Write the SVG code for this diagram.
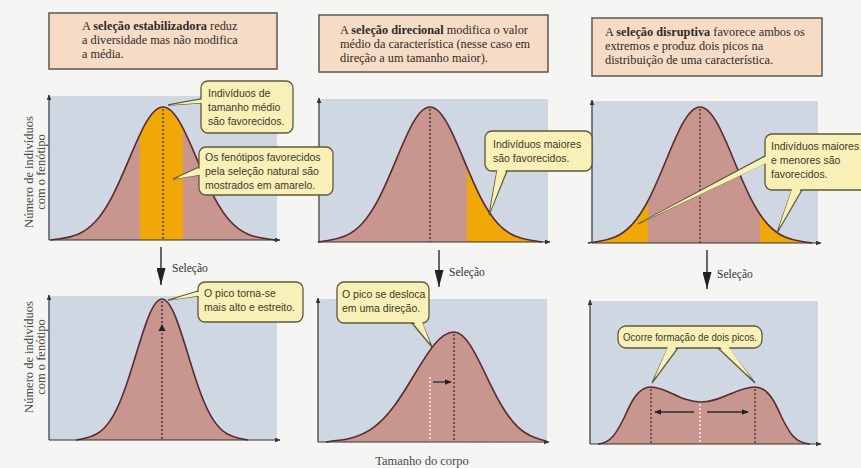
<svg xmlns="http://www.w3.org/2000/svg" width="861" height="468" viewBox="0 0 861 468">
<style>
.hdr{fill:#f7dcc5;stroke:#5b5753;stroke-width:1.5}
.ht{font-family:"Liberation Serif","Times New Roman",serif;font-size:12.3px;fill:#2e2a28}
.b{font-weight:bold}
.bg{fill:#cfd7e2}
.ax{stroke:#333;stroke-width:1.2;fill:none}
.rose{fill:#c8968f}
.yel{fill:#f0a808}
.cs{fill:none;stroke:#5a2a30;stroke-width:1.6}
.dd{stroke:#3a2626;stroke-width:1.2;stroke-dasharray:2 2;fill:none}
.wd{stroke:#ffffff;stroke-width:1.2;stroke-dasharray:2 2;fill:none}
.co{fill:#f8f0b6;stroke:#5d5a3a;stroke-width:1.3}
.cf{fill:#f8f0b6}
.ct{font-family:"Liberation Sans",Arial,sans-serif;font-size:10.5px;fill:#3a3a2c}
.lab{font-family:"Liberation Serif","Times New Roman",serif;font-size:12.5px;fill:#4a4a4a}
.sel{font-family:"Liberation Serif","Times New Roman",serif;font-size:11.5px;fill:#333}
.arr{stroke:#2b2b2b;stroke-width:1.4;fill:none}
.sa{stroke:#2b2b2b;stroke-width:1.3;fill:none}
</style>
<defs>
<path id="g" vector-effect="non-scaling-stroke" d="M-3.3,0 L-3,0.0111 C-2.8333,0.0167 -2.6667,0.0256 -2.5,0.0439 C-2.3333,0.0622 -2.1667,0.0902 -2,0.1353 C-1.8333,0.1804 -1.6667,0.2435 -1.5,0.3247 C-1.3333,0.4059 -1.1667,0.5054 -1,0.6065 C-0.8333,0.7076 -0.6667,0.8090 -0.5,0.8825 C-0.3333,0.9560 -0.1667,1 0,1 C0.1667,1 0.3333,0.9560 0.5,0.8825 C0.6667,0.8090 0.8333,0.7076 1,0.6065 C1.1667,0.5054 1.3333,0.4059 1.5,0.3247 C1.6667,0.2435 1.8333,0.1804 2,0.1353 C2.1667,0.0902 2.3333,0.0622 2.5,0.0439 C2.6667,0.0256 2.8333,0.0167 3,0.0111 L3.3,0"/>
<path id="gskew" d="M326,442 L334,440.78 C340.67,440.16 347.33,439.18 354,437.17 C360.67,435.16 367.33,432.08 374,427.12 C380.67,422.16 387.33,415.21 394,406.28 C400.67,397.35 407.33,386.41 414,375.28 C420.67,364.16 427.33,353.01 434,344.92 C440.67,336.84 447.33,332 454,332 C459.33,332 464.67,336.84 470,344.92 C475.33,353.01 480.67,364.16 486,375.28 C491.33,386.41 496.67,397.35 502,406.28 C507.33,415.21 512.67,422.16 518,427.12 C523.33,432.08 528.67,435.16 534,437.17 C539.33,439.18 542,440 546,441"/>
<path id="gbi" d="M598,444 C611,443.5 617,432 624,418 C631,402 638,387 651,387 C667,387 680,402 701,402 C722,402 737,387 755,387 C768,387 775,402 782,418 C789,432 795,443.5 810,444"/>
<marker id="ta" viewBox="0 0 10 10" refX="9" refY="5" markerWidth="6" markerHeight="5" orient="auto" markerUnits="userSpaceOnUse" preserveAspectRatio="none"><path d="M0,0 L10,5 L0,10 Z" fill="#333"/></marker>
<marker id="tb" viewBox="0 0 10 10" refX="10" refY="5" markerWidth="17" markerHeight="9" orient="auto" markerUnits="userSpaceOnUse" preserveAspectRatio="none"><path d="M0,0 L10,5 L0,10 Z" fill="#222"/></marker>
<marker id="ts" viewBox="0 0 10 10" refX="9" refY="5" markerWidth="7" markerHeight="6" orient="auto" markerUnits="userSpaceOnUse" preserveAspectRatio="none"><path d="M0,0 L10,5 L0,10 Z" fill="#222"/></marker>
<clipPath id="cy1"><rect x="140" y="90" width="43" height="155"/></clipPath>
<clipPath id="cy2"><rect x="467" y="90" width="90" height="155"/></clipPath>
<clipPath id="cy3"><rect x="590" y="90" width="58" height="155"/><rect x="760" y="90" width="60" height="155"/></clipPath>
</defs>

<rect x="0" y="0" width="861" height="468" fill="#f5f5f3"/>

<g id="header-estabilizadora">
<rect class="hdr" x="49" y="13" width="228" height="56"/>
<text class="ht" x="82" y="30">A <tspan class="b">seleção estabilizadora</tspan> reduz</text>
<text class="ht" x="82" y="44">a diversidade mas não modifica</text>
<text class="ht" x="82" y="58">a média.</text>
</g>
<g id="header-direcional">
<rect class="hdr" x="319" y="15" width="229" height="57"/>
<text class="ht" x="340" y="34">A <tspan class="b">seleção direcional</tspan> modifica o valor</text>
<text class="ht" x="340" y="48">médio da característica (nesse caso em</text>
<text class="ht" x="340" y="62">direção a um tamanho maior).</text>
</g>
<g id="header-disruptiva">
<rect class="hdr" x="592" y="18" width="230" height="58"/>
<text class="ht" x="605" y="36">A <tspan class="b">seleção disruptiva</tspan> favorece ambos os</text>
<text class="ht" x="605" y="50">extremos e produz dois picos na</text>
<text class="ht" x="605" y="64">distribuição de uma característica.</text>
</g>

<g id="ylabel-top">
<text class="lab" transform="translate(0,172) rotate(-90)" text-anchor="middle"><tspan x="0" y="33">Número de indivíduos</tspan><tspan x="0" y="45">com o fenótipo</tspan></text>
</g>
<g id="ylabel-bottom">
<text class="lab" transform="translate(0,357) rotate(-90)" text-anchor="middle"><tspan x="0" y="33">Número de indivíduos</tspan><tspan x="0" y="45">com o fenótipo</tspan></text>
</g>

<g id="graph-estabilizadora-antes">
<rect class="bg" x="49" y="96" width="228" height="144"/>
<use href="#g" class="rose" transform="translate(163,240) scale(34,-133)"/>
<g clip-path="url(#cy1)"><use href="#g" class="yel" transform="translate(163,240) scale(34,-133)"/></g>
<use href="#g" class="cs" transform="translate(163,240) scale(34,-133)"/>
<line class="dd" x1="163" y1="109" x2="163" y2="240"/>
<path class="ax" d="M49,240 V95" marker-end="url(#ta)"/>
<path class="ax" d="M49,240 H280" marker-end="url(#ta)"/>
</g>

<g id="graph-direcional-antes">
<rect class="bg" x="319" y="99" width="229" height="143"/>
<use href="#g" class="rose" transform="translate(430,242) scale(34,-135)"/>
<g clip-path="url(#cy2)"><use href="#g" class="yel" transform="translate(430,242) scale(34,-135)"/></g>
<use href="#g" class="cs" transform="translate(430,242) scale(34,-135)"/>
<line class="dd" x1="430" y1="109" x2="430" y2="242"/>
<path class="ax" d="M319,242 V98" marker-end="url(#ta)"/>
<path class="ax" d="M319,242 H550" marker-end="url(#ta)"/>
</g>

<g id="graph-disruptiva-antes">
<rect class="bg" x="592" y="101" width="226" height="142"/>
<use href="#g" class="rose" transform="translate(700,243) scale(34,-136)"/>
<g clip-path="url(#cy3)"><use href="#g" class="yel" transform="translate(700,243) scale(34,-136)"/></g>
<use href="#g" class="cs" transform="translate(700,243) scale(34,-136)"/>
<line class="dd" x1="700" y1="109" x2="700" y2="243"/>
<path class="ax" d="M592,243 V100" marker-end="url(#ta)"/>
<path class="ax" d="M592,243 H821" marker-end="url(#ta)"/>
</g>

<g id="graph-estabilizadora-depois">
<rect class="bg" x="49" y="296" width="228" height="144"/>
<use href="#g" class="rose" transform="translate(162,440) scale(26,-141)"/>
<use href="#g" class="cs" transform="translate(162,440) scale(26,-141)"/>
<line class="dd" x1="162" y1="301" x2="162" y2="440"/>
<polygon points="158.5,331 162,324 165.5,331" fill="#222"/>
<path class="ax" d="M49,440 V295" marker-end="url(#ta)"/>
<path class="ax" d="M49,440 H280" marker-end="url(#ta)"/>
</g>

<g id="graph-direcional-depois">
<rect class="bg" x="318" y="299" width="229" height="143"/>
<use href="#gskew" class="rose"/>
<use href="#gskew" class="cs"/>
<line class="wd" x1="430" y1="377" x2="430" y2="442"/>
<line class="dd" x1="454" y1="334" x2="454" y2="442"/>
<line class="sa" x1="433" y1="382" x2="451" y2="382" marker-end="url(#ts)"/>
<path class="ax" d="M318,442 V298" marker-end="url(#ta)"/>
<path class="ax" d="M318,442 H549" marker-end="url(#ta)"/>
</g>

<g id="graph-disruptiva-depois">
<rect class="bg" x="590" y="301" width="228" height="143"/>
<use href="#gbi" class="rose"/>
<use href="#gbi" class="cs"/>
<line class="dd" x1="651" y1="389" x2="651" y2="444"/>
<line class="dd" x1="755" y1="389" x2="755" y2="444"/>
<line class="wd" x1="700" y1="404" x2="700" y2="444"/>
<line class="sa" x1="694" y1="412" x2="655" y2="412" marker-end="url(#ts)"/>
<line class="sa" x1="707" y1="412" x2="748" y2="412" marker-end="url(#ts)"/>
<path class="ax" d="M590,444 V300" marker-end="url(#ta)"/>
<path class="ax" d="M590,444 H821" marker-end="url(#ta)"/>
</g>

<g id="connectors">
<line class="arr" x1="161" y1="247" x2="161" y2="285" marker-end="url(#tb)"/>
<line class="arr" x1="439" y1="250" x2="439" y2="287" marker-end="url(#tb)"/>
<line class="arr" x1="707" y1="250" x2="707" y2="289" marker-end="url(#tb)"/>
</g>
<g id="selecao-labels">
<text class="sel" x="172" y="272">Seleção</text>
<text class="sel" x="449" y="276">Seleção</text>
<text class="sel" x="717" y="278">Seleção</text>
</g>

<g id="callout-medio">
<polygon class="co" points="201,99 168,105 201,103"/>
<rect class="co" x="201" y="81" width="92" height="52" rx="7"/>
<polygon class="cf" points="203,99.3 170,105 203,102.7"/>
<text class="ct" x="208" y="97">Indivíduos de</text>
<text class="ct" x="208" y="111">tamanho médio</text>
<text class="ct" x="208" y="125">são favorecidos.</text>
</g>

<g id="callout-amarelo">
<polygon class="co" points="199,167 173,179 199,175"/>
<rect class="co" x="199" y="147" width="134" height="48" rx="7"/>
<polygon class="cf" points="201.5,167.5 175,179 201.5,174.5"/>
<text class="ct" x="205" y="161">Os fenótipos favorecidos</text>
<text class="ct" x="205" y="175">pela seleção natural são</text>
<text class="ct" x="205" y="189">mostrados em amarelo.</text>
</g>

<g id="callout-maiores">
<polygon class="co" points="497,171 489,215 507,171"/>
<rect class="co" x="485" y="131" width="107" height="40" rx="7"/>
<polygon class="cf" points="497.5,168.5 490,212 506.5,168.5"/>
<text class="ct" x="493" y="148">Indivíduos maiores</text>
<text class="ct" x="493" y="162">são favorecidos.</text>
</g>

<g id="callout-extremos">
<polygon class="co" points="765,156 638,224 765,163"/>
<polygon class="co" points="792,190 777,233 802,190"/>
<rect class="co" x="765" y="134" width="104" height="56" rx="7"/>
<polygon class="cf" points="767.5,155.8 642,222 767.5,162.5"/>
<polygon class="cf" points="792.5,187.5 778.5,229 801.5,187.5"/>
<text class="ct" x="771" y="150">Indivíduos maiores</text>
<text class="ct" x="771" y="164">e menores são</text>
<text class="ct" x="771" y="178">favorecidos.</text>
</g>

<g id="callout-estreito">
<polygon class="co" points="198,291 168,300 198,296"/>
<rect class="co" x="198" y="282" width="105" height="40" rx="7"/>
<polygon class="cf" points="200.5,291.3 171,300 200.5,295.5"/>
<text class="ct" x="204" y="297">O pico torna-se</text>
<text class="ct" x="204" y="311">mais alto e estreito.</text>
</g>

<g id="callout-desloca">
<polygon class="co" points="412,323 432,347 422,323"/>
<rect class="co" x="337" y="282" width="92" height="41" rx="7"/>
<polygon class="cf" points="412.5,320.5 430,343 421.5,320.5"/>
<text class="ct" x="342" y="298">O pico se desloca</text>
<text class="ct" x="342" y="312">em uma direção.</text>
</g>

<g id="callout-dois-picos">
<polygon class="co" points="668,348 652,383 678,348"/>
<polygon class="co" points="718,348 755,383 728,348"/>
<rect class="co" x="618" y="326" width="144" height="22" rx="8"/>
<polygon class="cf" points="668.5,345.5 654,379 677.5,345.5"/>
<polygon class="cf" points="718.5,345.5 752,379 727.5,345.5"/>
<text class="ct" x="690" y="341" text-anchor="middle" textLength="134" lengthAdjust="spacingAndGlyphs">Ocorre formação de dois picos.</text>
</g>

<g id="xlabel">
<text class="lab" x="422" y="465" text-anchor="middle">Tamanho do corpo</text>
</g>
</svg>
